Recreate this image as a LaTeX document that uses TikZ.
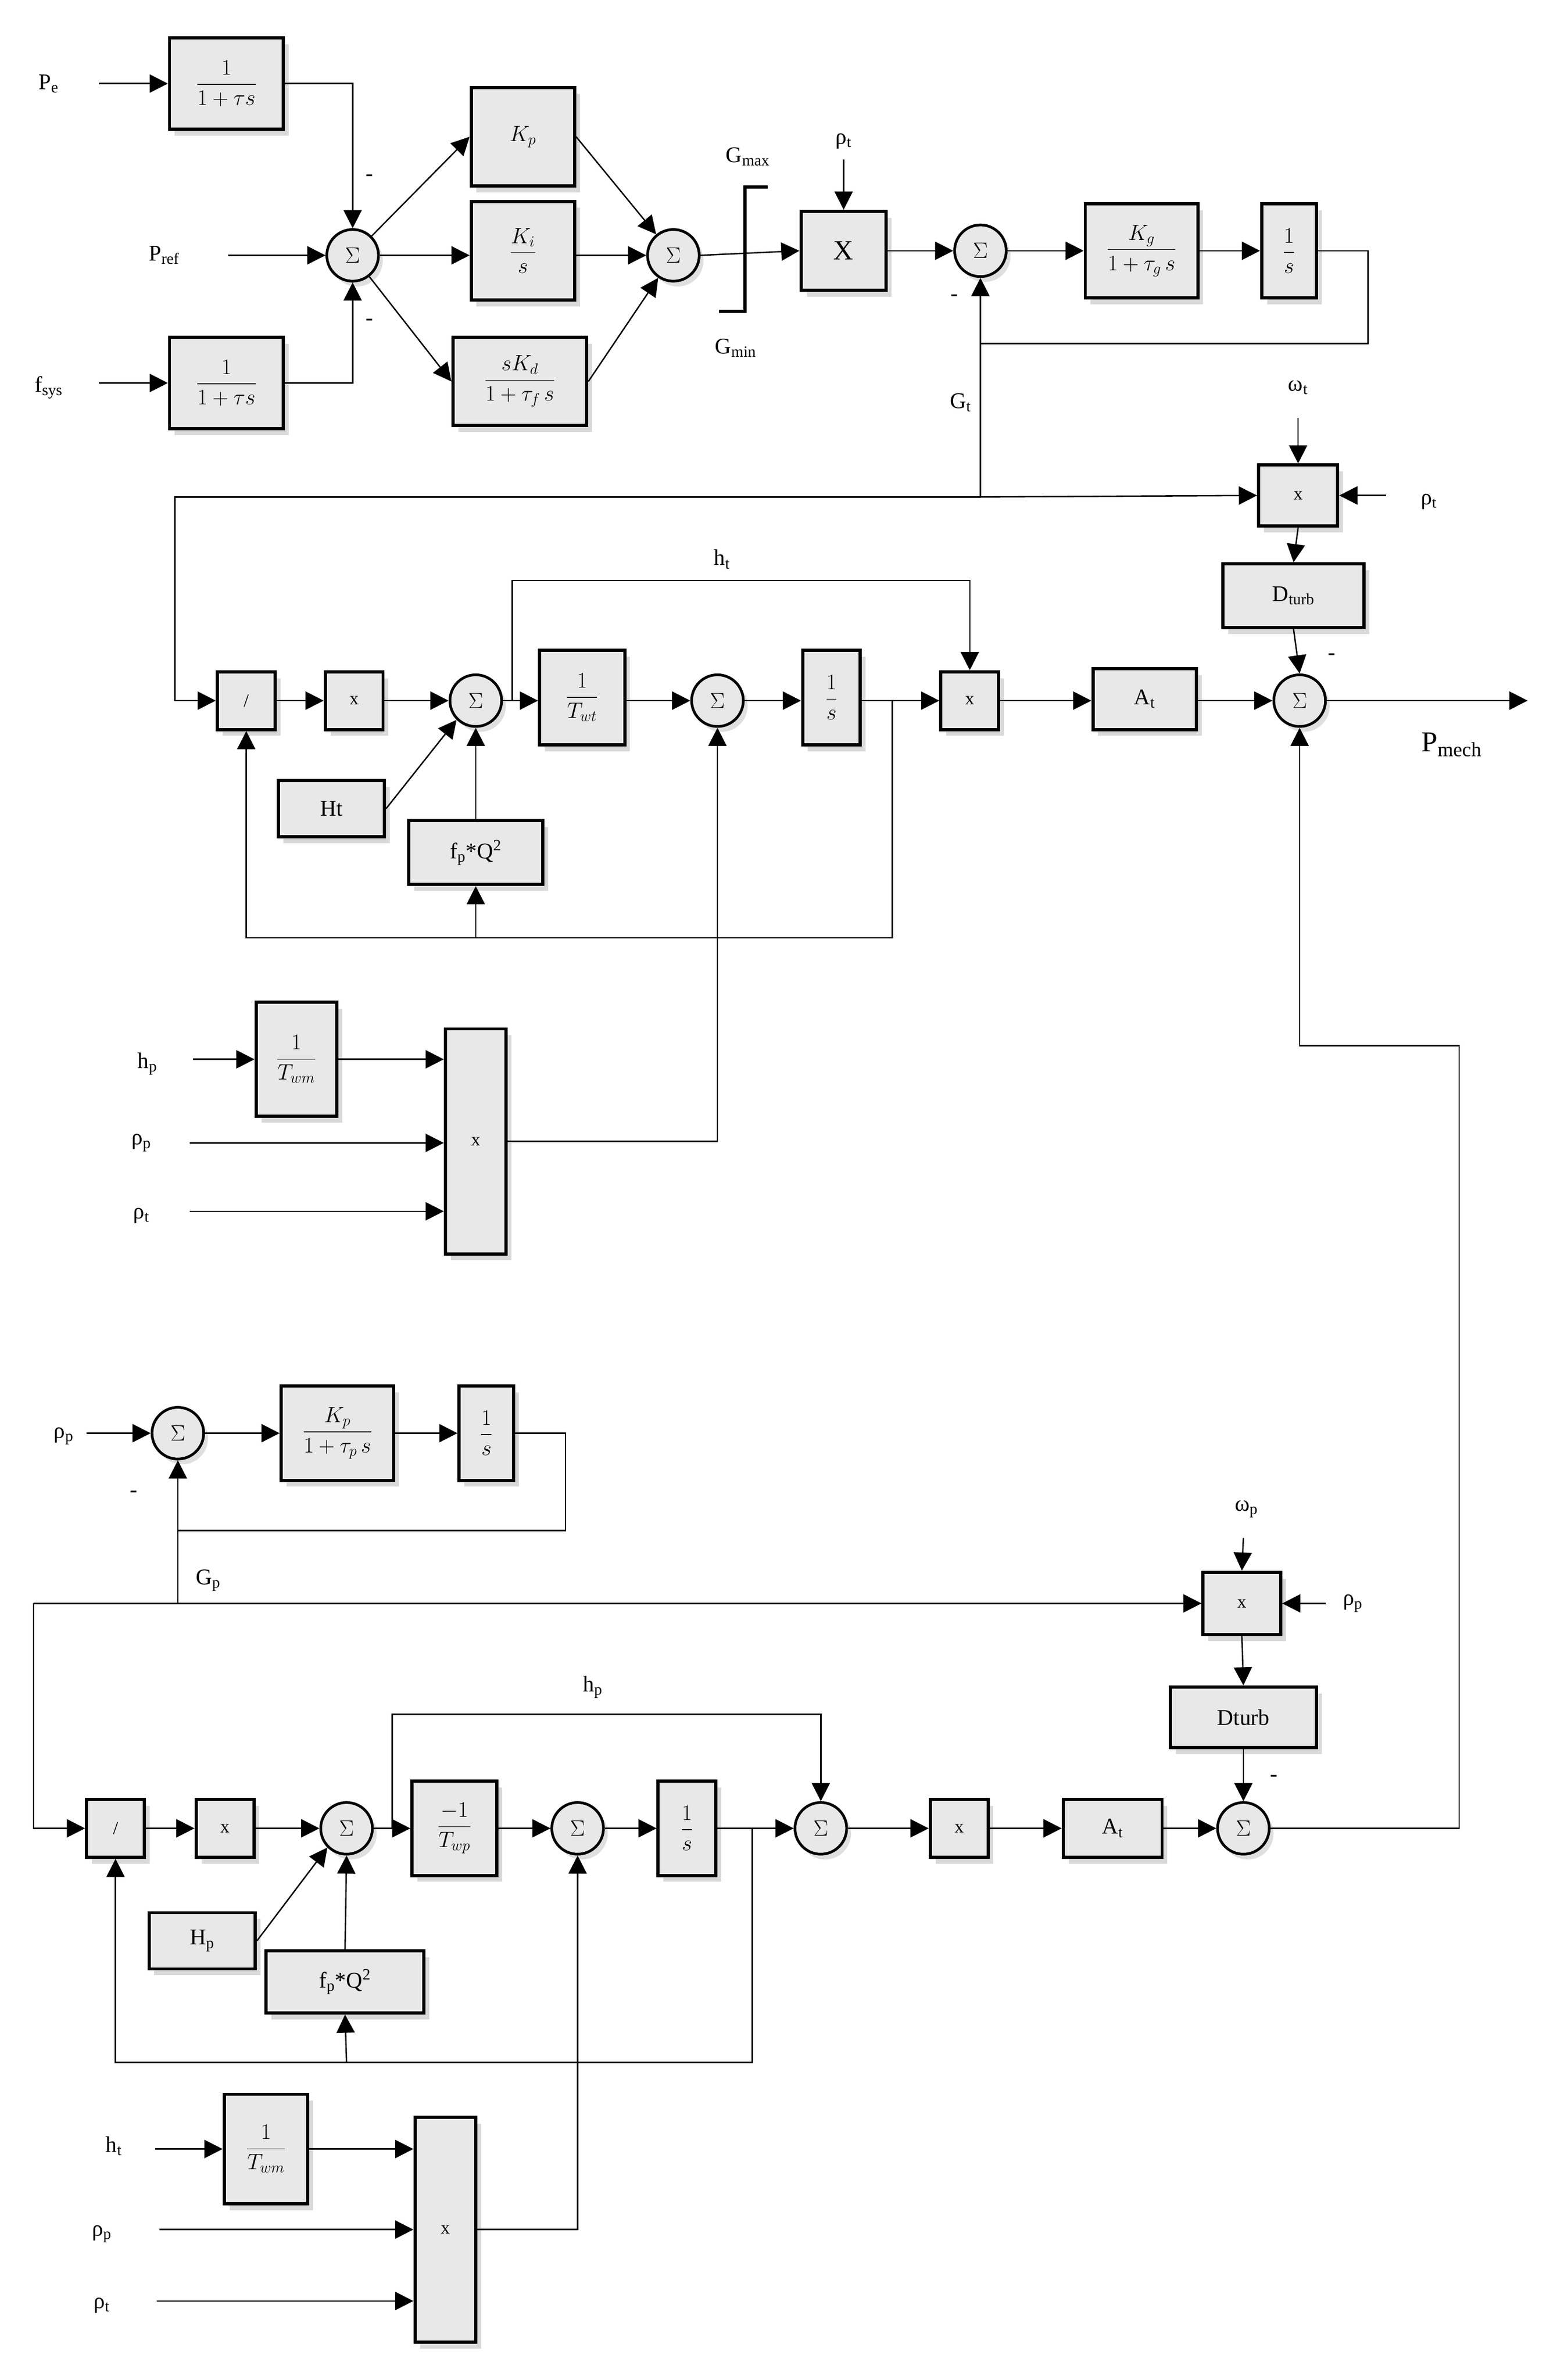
\documentclass[tikz,border=0pt]{standalone}
\usepackage{amsmath}
\usepackage{fontspec}
\setmainfont{Liberation Serif}
\usetikzlibrary{arrows.meta,shadows}
\begin{document}
\begin{tikzpicture}[x=0.05cm,y=-0.05cm,
  every node/.style={font=\fontsize{21}{24}\selectfont},
  blk/.style={draw,line width=3pt,fill=gray!18,inner sep=0pt,
    drop shadow={shadow xshift=5pt,shadow yshift=-6pt,opacity=0.3}},
  sm/.style={circle,draw,line width=2.5pt,fill=gray!18,minimum size=1.7cm,inner sep=0pt,
    drop shadow={shadow xshift=4pt,shadow yshift=-5pt,opacity=0.25}},
  arr/.style={line width=1.3pt,-{Triangle[length=17pt,width=17pt]}},
  ln/.style={line width=1.3pt},
  lb/.style={inner sep=1pt}]
\useasboundingbox (0,0) rectangle (1024,1566);
\newcommand{\sg}{$\Sigma$}
% ---------- top ----------
\node[blk,minimum width=3.75cm,minimum height=3cm] (B1) at (149,55) {$\dfrac{1}{1+\tau s}$};
\node[blk,minimum width=3.75cm,minimum height=3cm] (B2) at (149,252) {$\dfrac{1}{1+\tau s}$};
\node[sm] (S1) at (232,168) {\sg};
\node[blk,minimum width=3.4cm,minimum height=3.25cm] (Kp) at (344,90) {$K_p$};
\node[blk,minimum width=3.4cm,minimum height=3.25cm] (Ki) at (344,165) {$\dfrac{K_i}{s}$};
\node[blk,minimum width=4.4cm,minimum height=2.9cm] (Kd) at (342,251) {$\dfrac{sK_d}{1+\tau_f\, s}$};
\node[sm] (S2) at (443,168) {\sg};
\node[blk,minimum width=2.8cm,minimum height=2.6cm,font=\fontsize{26}{28}\selectfont] (X) at (555,165) {X};
\node[sm] (S3) at (645,165) {\sg};
\node[blk,minimum width=3.7cm,minimum height=3.1cm] (Kg) at (751,165) {$\dfrac{K_g}{1+\tau_g\, s}$};
\node[blk,minimum width=1.8cm,minimum height=3.1cm] (I1) at (848,165) {$\dfrac{1}{s}$};
\node[lb] (lpe) at (32,55) {P\textsubscript{e}};
\node[lb] (lpref) at (108,168) {P\textsubscript{ref}};
\node[lb] (lfs) at (32,255) {f\textsubscript{sys}};
\coordinate (pe) at (65,55); \coordinate (pr) at (150,168); \coordinate (fs) at (65,252);
\draw[arr] (pe) -- (B1.west);
\draw[arr] (pr) -- (S1.west);
\draw[arr] (fs) -- (B2.west);
\draw[arr] (B1.east) -| (S1.north);
\draw[arr] (B2.east) -| (S1.south);
\node[lb] at (243,117) {-};
\node[lb] at (243,212) {-};
\draw[arr] (S1) -- (Kp.west);
\draw[arr] (S1) -- (Ki.west |- S1);
\draw[arr] (S1) -- (Kd.west);
\draw[arr] (Kp.east) -- (S2);
\draw[arr] (Ki.east |- S2) -- (S2.west);
\draw[arr] (Kd.east) -- (S2);
\draw[arr] (S2.east) -- (X.west);
\draw[line width=3pt] (505,123) -- (490,123) -- (490,205) -- (473,205);
\node[lb] at (492,103) {G\textsubscript{max}};
\node[lb] at (484,229) {G\textsubscript{min}};
\coordinate (rt) at (555,105);
\node[lb] at (555,93) {ρ\textsubscript{t}};
\draw[arr] (rt) -- (X.north);
\draw[arr] (X.east) -- (S3.west);
\draw[arr] (S3.east) -- (Kg.west);
\draw[arr] (Kg.east) -- (I1.west);
\coordinate (g1) at (645,226); \coordinate (g2) at (645,327);
\draw[arr] (I1.east) -- (900,165) -- (900,226) -- (g1) -- (S3.south);
\node[lb] at (628,196) {-};
\node[lb] at (632,265) {G\textsubscript{t}};
\draw[ln] (g1) -- (g2);
% ---------- turbine chain ----------
\node[blk,minimum width=2.6cm,minimum height=2cm,font=\fontsize{17}{20}\selectfont] (xt) at (854,326) {x};
\node[blk,minimum width=4.65cm,minimum height=2.1cm] (Dt) at (851,392) {D\textsubscript{turb}};
\node[sm] (S4) at (855,461) {\sg};
\node[blk,minimum width=1.9cm,minimum height=1.9cm,font=\fontsize{17}{20}\selectfont] (d1) at (162,461) {/};
\node[blk,minimum width=1.9cm,minimum height=1.9cm,font=\fontsize{17}{20}\selectfont] (x1) at (233,461) {x};
\node[sm] (S5) at (313,461) {\sg};
\node[blk,minimum width=2.8cm,minimum height=3.1cm] (Twt) at (383,459) {$\dfrac{1}{T_{wt}}$};
\node[sm] (S6) at (472,461) {\sg};
\node[blk,minimum width=1.9cm,minimum height=3.1cm] (I2) at (547,459) {$\dfrac{1}{s}$};
\node[blk,minimum width=1.9cm,minimum height=1.9cm,font=\fontsize{17}{20}\selectfont] (x2) at (638,461) {x};
\node[blk,minimum width=3.4cm,minimum height=2cm] (At1) at (753,460) {A\textsubscript{t}};
\node[blk,minimum width=3.5cm,minimum height=1.85cm] (Ht) at (218,532) {Ht};
\node[blk,minimum width=4.4cm,minimum height=2.1cm] (fq1) at (313,561) {f\textsubscript{p}*Q\textsuperscript{2}};
\draw[arr] (g2) -- (xt.west);
\draw[arr] (g2) -- (115,327) -- (115,461) -- (d1.west);
\coordinate (wt) at (854,275);
\node[lb] at (854,255) {ω\textsubscript{t}};
\draw[arr] (wt) -- (xt.north);
\coordinate (rt2) at (912,326);
\node[lb] at (940,330) {ρ\textsubscript{t}};
\draw[arr] (rt2) -- (xt.east);
\draw[arr] (xt.south) -- (Dt.north);
\draw[arr] (Dt.south) -- (S4.north);
\node[lb] at (876,432) {-};
\draw[arr] (d1.east) -- (x1.west);
\draw[arr] (x1.east) -- (S5.west);
\draw[arr] (S5.east) -- (Twt.west |- S5);
\draw[arr] (Twt.east |- S6) -- (S6.west);
\draw[arr] (S6.east) -- (I2.west |- S6);
\draw[arr] (I2.east |- x2) -- (x2.west);
\draw[arr] (x2.east) -- (At1.west |- x2);
\draw[arr] (At1.east |- S4) -- (S4.west);
\coordinate (pm) at (1005,461);
\draw[arr] (S4.east) -- (pm);
\node[lb,font=\fontsize{27}{30}\selectfont] at (955,490) {P\textsubscript{mech}};
\draw[arr] (337,461) -- (337,382) -| (x2.north);
\node[lb] at (475,368) {h\textsubscript{t}};
\draw[arr] (587,461) -- (587,617) -| (d1.south);
\draw[arr] (313,617) -- (fq1.south);
\draw[arr] (fq1.north) -- (S5.south);
\draw[arr] (Ht.east) -- (S5.south west);
% middle inputs
\node[blk,minimum width=2.65cm,minimum height=3.75cm] (Tm1) at (195,697) {$\dfrac{1}{T_{wm}}$};
\node[blk,minimum width=2cm,minimum height=7.4cm,font=\fontsize{17}{20}\selectfont] (bx1) at (313,751) {x};
\node[lb] at (97,700) {h\textsubscript{p}};
\node[lb] at (93,752) {ρ\textsubscript{p}};
\node[lb] at (93,800) {ρ\textsubscript{t}};
\coordinate (i1) at (127,697); \coordinate (i2) at (125,752); \coordinate (i3) at (125,797);
\draw[arr] (i1) -- (Tm1.west);
\draw[arr] (Tm1.east) -- (Tm1 -| bx1.west);
\draw[arr] (i2) -- (i2 -| bx1.west);
\draw[arr] (i3) -- (i3 -| bx1.west);
\draw[arr] (bx1.east) -| (S6.south);
% ---------- pump ----------
\node[sm] (S8) at (117,943) {\sg};
\node[blk,minimum width=3.7cm,minimum height=3.1cm] (Kp2) at (222,943) {$\dfrac{K_p}{1+\tau_p\, s}$};
\node[blk,minimum width=1.8cm,minimum height=3.1cm] (I3) at (320,943) {$\dfrac{1}{s}$};
\node[blk,minimum width=2.55cm,minimum height=2.05cm,font=\fontsize{17}{20}\selectfont] (xp) at (817,1055) {x};
\node[blk,minimum width=4.8cm,minimum height=2cm] (Dp) at (818,1130) {Dturb};
\node[sm] (S7) at (818,1203) {\sg};
\node[blk,minimum width=1.9cm,minimum height=1.9cm,font=\fontsize{17}{20}\selectfont] (d2) at (76,1203) {/};
\node[blk,minimum width=1.9cm,minimum height=1.9cm,font=\fontsize{17}{20}\selectfont] (x3) at (148,1203) {x};
\node[sm] (S9) at (228,1203) {\sg};
\node[blk,minimum width=2.8cm,minimum height=3.1cm] (Twp) at (299,1203) {$\dfrac{-1}{T_{wp}}$};
\node[sm] (S10) at (380,1203) {\sg};
\node[blk,minimum width=1.9cm,minimum height=3.1cm] (I4) at (452,1203) {$\dfrac{1}{s}$};
\node[sm] (S11) at (540,1203) {\sg};
\node[blk,minimum width=1.9cm,minimum height=1.9cm,font=\fontsize{17}{20}\selectfont] (x4) at (631,1203) {x};
\node[blk,minimum width=3.25cm,minimum height=1.9cm] (At2) at (732,1203) {A\textsubscript{t}};
\node[blk,minimum width=3.5cm,minimum height=1.85cm] (Hp) at (133,1277) {H\textsubscript{p}};
\node[blk,minimum width=5.2cm,minimum height=2.05cm] (fq2) at (227,1304) {f\textsubscript{p}*Q\textsuperscript{2}};
\node[lb] at (42,945) {ρ\textsubscript{p}};
\coordinate (rp) at (57,943);
\draw[arr] (rp) -- (S8.west);
\draw[arr] (S8.east) -- (Kp2.west);
\draw[arr] (Kp2.east) -- (I3.west);
\coordinate (g3) at (117,1007); \coordinate (g4) at (117,1055);
\draw[arr] (I3.east) -- (372,943) -- (372,1007) -- (g3) -- (S8.south);
\node[lb] at (88,983) {-};
\node[lb] at (137,1040) {G\textsubscript{p}};
\draw[ln] (g3) -- (g4);
\draw[arr] (22,1055) -- (xp.west);
\draw[arr] (22,1055) -- (22,1203) -- (d2.west);
\node[lb] at (820,993) {ω\textsubscript{p}};
\coordinate (wp) at (818,1012);
\draw[arr] (wp) -- (xp.north);
\node[lb] at (890,1055) {ρ\textsubscript{p}};
\coordinate (rp2) at (872,1055);
\draw[arr] (rp2) -- (xp.east);
\draw[arr] (xp.south) -- (Dp.north);
\draw[arr] (Dp.south) -- (S7.north);
\node[lb] at (838,1170) {-};
\draw[arr] (d2.east) -- (x3.west);
\draw[arr] (x3.east) -- (S9.west);
\draw[arr] (S9.east) -- (Twp.west);
\draw[arr] (Twp.east) -- (S10.west);
\draw[arr] (S10.east) -- (I4.west);
\draw[arr] (I4.east) -- (S11.west);
\draw[arr] (S11.east) -- (x4.west);
\draw[arr] (x4.east) -- (At2.west);
\draw[arr] (At2.east) -- (S7.west);
\draw[arr] (S7.east) -- (960,1203) -- (960,688) -- (855,688) -- (S4.south);
\draw[arr] (258,1203) -- (258,1128) -| (S11.north);
\node[lb] at (390,1110) {h\textsubscript{p}};
\draw[arr] (495,1203) -- (495,1357) -| (d2.south);
\draw[arr] (228,1357) -- (fq2.south);
\draw[arr] (fq2.north) -- (S9.south);
\draw[arr] (Hp.east) -- (S9.south west);
\node[blk,minimum width=2.75cm,minimum height=3.6cm] (Tm2) at (175,1414) {$\dfrac{1}{T_{wm}}$};
\node[blk,minimum width=2cm,minimum height=7.4cm,font=\fontsize{17}{20}\selectfont] (bx2) at (293,1467) {x};
\node[lb] at (75,1412) {h\textsubscript{t}};
\node[lb] at (67,1470) {ρ\textsubscript{p}};
\node[lb] at (67,1517) {ρ\textsubscript{t}};
\coordinate (j1) at (102,1414); \coordinate (j2) at (105,1467); \coordinate (j3) at (103,1514);
\draw[arr] (j1) -- (Tm2.west);
\draw[arr] (Tm2.east) -- (Tm2 -| bx2.west);
\draw[arr] (j2) -- (j2 -| bx2.west);
\draw[arr] (j3) -- (j3 -| bx2.west);
\draw[arr] (bx2.east) -| (S10.south);
\end{tikzpicture}
\end{document}
